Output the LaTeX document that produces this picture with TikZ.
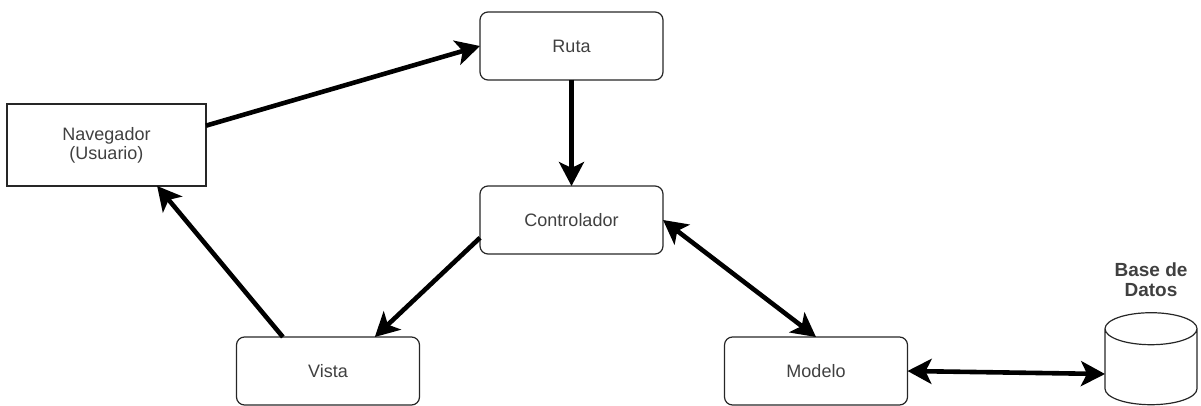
\documentclass[tikz,border=0pt]{standalone}
\usepackage{fontspec}
\setmainfont{Liberation Sans}
\usetikzlibrary{arrows.meta,shapes.geometric}
\tikzset{
	caja/.style={draw=black!85,line width=1.2pt,rounded corners=8pt,minimum width=183pt,minimum height=68pt,outer sep=0pt,text=black!75,font=\fontsize{18}{19}\selectfont,align=center},
	flecha/.style={line width=4.6pt,-{Stealth[length=24pt,width=25pt,inset=6pt]}},
	doble/.style={line width=4.6pt,{Stealth[length=24pt,width=25pt,inset=6pt]}-{Stealth[length=24pt,width=25pt,inset=6pt]}}
}
\begin{document}
\begin{tikzpicture}[x=1pt,y=-1pt]
	\useasboundingbox (0,0) rectangle (1201,406);
	
	% Cajas
	\node[caja] (ruta) at (571.5,46) {Ruta};
	\node[caja] (controlador) at (571.5,220) {Controlador};
	\node[caja] (vista) at (328,371) {Vista};
	\node[caja] (modelo) at (816,371) {Modelo};
	\node[caja,rounded corners=0pt,minimum width=199pt,minimum height=82pt] (navegador) at (106.5,145) {Navegador\\(Usuario)};
	
	% Base de datos
	\node[draw=black!85,line width=1.2pt,cylinder,shape border rotate=90,aspect=4.8,minimum width=92pt,minimum height=92pt,outer sep=0pt] (datos) at (1151,370) {};
	\node[font=\bfseries\fontsize{19}{20}\selectfont,align=center,text=black!75] (titulo) at (1151,280) {Base de\\Datos};
	\coordinate (entrada) at (1105,374);
	
	% Flechas
	\draw[flecha] (navegador.11) -- (ruta.west);
	\draw[flecha] (ruta.south) -- (controlador.north);
	\draw[flecha] (controlador.191) -- (vista.36.5);
	\draw[flecha] (vista.143.2) -- (navegador.-39);
	\draw[doble] (controlador.east) -- (modelo.north);
	\draw[doble] (modelo.east) -- (entrada);
	
\end{tikzpicture}
\end{document}
